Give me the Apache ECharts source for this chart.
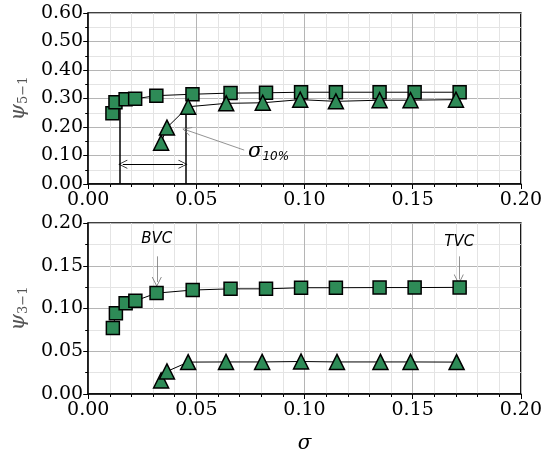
<!DOCTYPE html>
<html>
<head>
<meta charset="utf-8">
<script src="https://cdn.jsdelivr.net/npm/echarts@6/dist/echarts.min.js"></script>
<style>
  html, body { margin: 0; padding: 0; background: #fff; }
  #chart { width: 545px; height: 457px; }
</style>
</head>
<body>
<div id="chart"></div>
<script>
// top panel: psi_5-1 vs sigma
const topSquares = [
  [0.0112, 0.248], [0.0126, 0.287], [0.0173, 0.297], [0.0217, 0.299],
  [0.0315, 0.310], [0.0482, 0.315], [0.0658, 0.319], [0.0822, 0.320],
  [0.0984, 0.322], [0.1145, 0.322], [0.1347, 0.322], [0.1509, 0.322], [0.1717, 0.322]
];
const topTriangles = [
  [0.0337, 0.145], [0.0364, 0.198], [0.0462, 0.271], [0.0638, 0.283],
  [0.0807, 0.285], [0.0980, 0.296], [0.1145, 0.290], [0.1347, 0.294],
  [0.1490, 0.294], [0.1700, 0.296]
];
// bottom panel: psi_3-1 vs sigma
const botSquares = [
  [0.0114, 0.0773], [0.0128, 0.0944], [0.0173, 0.106], [0.0218, 0.109],
  [0.0316, 0.118], [0.0483, 0.1216], [0.0658, 0.123], [0.0822, 0.123],
  [0.0984, 0.1243], [0.1145, 0.1243], [0.1347, 0.1245], [0.1509, 0.1245], [0.1717, 0.1247]
];
const botTriangles = [
  [0.0337, 0.0159], [0.0364, 0.0264], [0.0462, 0.0373], [0.0637, 0.0375],
  [0.0804, 0.0375], [0.0984, 0.0380], [0.1150, 0.0375], [0.1351, 0.0375],
  [0.1490, 0.0375], [0.1703, 0.0373]
];
const xTicks = ["0.00", "0.05", "0.10", "0.15", "0.20"];
// sigma_10% bounds
const sigmaLow = 0.0148;
const sigmaHigh = 0.0450;

const chart = echarts.init(document.getElementById("chart"));

const green = "#2e8b57";
const serif = "DejaVu Serif";
const chevron = "path://M0,0 L6,12 L5,12 L0,2 L-5,12 L-6,12 Z";

function xAxisCfg(gridIndex, showName) {
  return {
    type: "value",
    gridIndex: gridIndex,
    min: 0,
    max: 0.2,
    interval: 0.05,
    name: showName ? "σ" : "",
    nameLocation: "middle",
    nameGap: 40,
    nameTextStyle: { fontFamily: serif, fontStyle: "italic", fontSize: 20, color: "#000" },
    axisLine: { show: true, lineStyle: { color: "#000", width: 1.5 } },
    axisTick: { show: true, inside: false, length: 5, lineStyle: { color: "#000" } },
    minorTick: { show: true, splitNumber: 5, length: 3, lineStyle: { color: "#000" } },
    splitLine: { show: true, lineStyle: { color: "#b5b5b5", width: 1 } },
    minorSplitLine: { show: true, lineStyle: { color: "#e4e4e4", width: 1 } },
    axisLabel: {
      margin: 7,
      fontFamily: serif,
      fontSize: 19,
      color: "#000",
      formatter: (v) => xTicks[Math.round(v / 0.05)]
    }
  };
}

function yAxisCfg(gridIndex, max, interval, digits, sub) {
  return {
    type: "value",
    gridIndex: gridIndex,
    min: 0,
    max: max,
    interval: interval,
    name: "{p|ψ}{s|" + sub + "}",
    nameLocation: "middle",
    nameRotate: 90,
    nameGap: 54,
    nameTextStyle: {
      rich: {
        p: { fontFamily: serif, fontStyle: "italic", fontSize: 21, color: "#555" },
        s: { fontFamily: serif, fontSize: 13, color: "#555", padding: [10, 0, 0, 0] }
      }
    },
    axisLine: { show: true, lineStyle: { color: "#000", width: 1.5 } },
    axisTick: { show: true, inside: false, length: 5, lineStyle: { color: "#000" } },
    minorTick: { show: true, splitNumber: 2, length: 3, lineStyle: { color: "#000" } },
    splitLine: { show: true, lineStyle: { color: "#b5b5b5", width: 1 } },
    minorSplitLine: { show: true, lineStyle: { color: "#e4e4e4", width: 1 } },
    axisLabel: {
      margin: 5,
      fontFamily: serif,
      fontSize: 19,
      color: "#000",
      formatter: (v) => v.toFixed(digits)
    }
  };
}

function markerSeries(data, axisIndex, symbol, size, extra) {
  return Object.assign({
    type: "line",
    xAxisIndex: axisIndex,
    yAxisIndex: axisIndex,
    data: data,
    symbol: symbol,
    symbolSize: size,
    showAllSymbol: true,
    lineStyle: { color: "#000", width: 1 },
    itemStyle: { color: green, borderColor: "#000", borderWidth: 1.5 },
    z: 5,
    animation: false
  }, extra || {});
}

const option = {
  animation: false,
  grid: [
    { left: 83, right: 19, top: 13, height: 171, show: true, borderColor: "#000", borderWidth: 1.5 },
    { left: 83, right: 19, top: 223, height: 171, show: true, borderColor: "#000", borderWidth: 1.5 }
  ],
  xAxis: [xAxisCfg(0, false), xAxisCfg(1, true)],
  yAxis: [yAxisCfg(0, 0.6, 0.1, 2, "5−1"), yAxisCfg(1, 0.2, 0.05, 2, "3−1")],
  series: [
    markerSeries(topSquares, 0, "rect", 13, {
      markLine: {
        silent: true,
        symbol: "none",
        animation: false,
        label: { show: false },
        lineStyle: { color: "#000", width: 1.5, type: "solid" },
        data: [
          [{ coord: [sigmaLow, 0] }, { coord: [sigmaLow, 0.298] }],
          [{ coord: [sigmaHigh, 0] }, { coord: [sigmaHigh, 0.262] }],
          [
            { coord: [sigmaLow + 0.0012, 0.069], symbol: chevron, symbolSize: [9, 9] },
            { coord: [sigmaHigh - 0.0012, 0.069], symbol: chevron, symbolSize: [9, 9],
              lineStyle: { width: 1 } }
          ],
          [
            { coord: [0.0721, 0.119], symbol: "none" },
            { coord: [sigmaHigh + 0.0005, 0.189], symbol: chevron, symbolSize: [9, 9],
              lineStyle: { color: "#777", width: 0.8 } }
          ]
        ]
      },
      markPoint: {
        silent: true,
        symbol: "circle",
        symbolSize: 0,
        animation: false,
        data: [{
          coord: [0.0739, 0.113],
          label: {
            show: true,
            position: "right",
            distance: 0,
            formatter: "{a|σ}{b|10%}",
            rich: {
              a: { fontFamily: serif, fontStyle: "italic", fontSize: 21, color: "#000" },
              b: { fontFamily: "DejaVu Sans", fontStyle: "italic", fontSize: 12, color: "#000", padding: [10, 0, 0, 0] }
            }
          }
        }]
      }
    }),
    markerSeries(topTriangles, 0, "triangle", 15),
    markerSeries(botSquares, 1, "rect", 13, {
      markLine: {
        silent: true,
        animation: false,
        label: { show: false },
        lineStyle: { color: "#777", width: 0.8, type: "solid" },
        data: [
          [
            { coord: [0.0317, 0.161], symbol: "none" },
            { coord: [0.0317, 0.131], symbol: chevron, symbolSize: [10, 10] }
          ],
          [
            { coord: [0.1713, 0.161], symbol: "none" },
            { coord: [0.1713, 0.134], symbol: chevron, symbolSize: [10, 10] }
          ]
        ]
      },
      markPoint: {
        silent: true,
        symbol: "circle",
        symbolSize: 0,
        animation: false,
        label: {
          show: true,
          position: "inside",
          fontFamily: "DejaVu Sans",
          fontStyle: "italic",
          fontSize: 15,
          color: "#000"
        },
        data: [
          { coord: [0.0317, 0.181], label: { formatter: "BVC" } },
          { coord: [0.1715, 0.178], label: { formatter: "TVC" } }
        ]
      }
    }),
    markerSeries(botTriangles, 1, "triangle", 15)
  ]
};

chart.setOption(option);
</script>
</body>
</html>
